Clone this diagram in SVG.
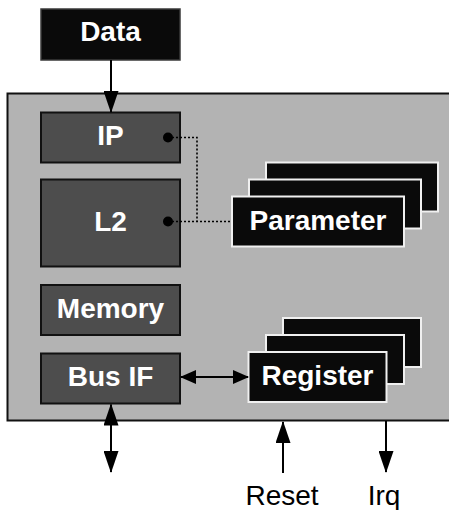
<svg xmlns="http://www.w3.org/2000/svg" width="449" height="510" viewBox="0 0 449 510">
  <style>
    .lbl { font-family: "Liberation Sans", Arial, sans-serif; font-weight: bold; font-size: 28px; fill: #ffffff; text-anchor: middle; }
    .pin { font-family: "Liberation Sans", Arial, sans-serif; font-size: 28px; fill: #000000; text-anchor: middle; }
    .blk { fill: #4d4d4d; stroke: #111111; stroke-width: 2; }
    .card { fill: #0a0a0a; stroke: #f0f0f0; stroke-width: 2; }
    .wire { stroke: #000000; stroke-width: 2; fill: none; }
    .dot-wire { stroke: #000000; stroke-width: 1.6; fill: none; stroke-dasharray: 2 2; }
  </style>
  <defs>
    <marker id="headV" markerUnits="userSpaceOnUse" markerWidth="22" markerHeight="15" viewBox="0 0 22 15" refX="21" refY="7.5" orient="auto-start-reverse">
      <path d="M0,0 L22,7.5 L0,15 Z" fill="#000"/>
    </marker>
    <marker id="headH" markerUnits="userSpaceOnUse" markerWidth="16" markerHeight="14" viewBox="0 0 16 14" refX="15" refY="7" orient="auto-start-reverse">
      <path d="M0,0 L16,7 L0,14 Z" fill="#000"/>
    </marker>
  </defs>

  <rect width="449" height="510" fill="#ffffff"/>

  <!-- chip body -->
  <rect id="chip" x="7.5" y="93.5" width="443" height="327" fill="#b3b3b3" stroke="#111111" stroke-width="2"/>

  <g id="data">
    <rect x="41" y="9" width="139" height="51" fill="#0a0a0a" stroke="#3a3a3a" stroke-width="1.5"/>
    <text class="lbl" x="110.5" y="41">Data</text>
  </g>

  <g id="ip">
    <rect class="blk" x="41" y="112.5" width="139" height="50"/>
    <text class="lbl" x="110.5" y="145">IP</text>
  </g>

  <g id="l2">
    <rect class="blk" x="41" y="179.5" width="139" height="87"/>
    <text class="lbl" x="110.5" y="231">L2</text>
  </g>

  <g id="memory">
    <rect class="blk" x="41" y="285" width="139" height="50"/>
    <text class="lbl" x="110.5" y="317.5">Memory</text>
  </g>

  <g id="busif">
    <rect class="blk" x="41" y="353.5" width="139" height="50"/>
    <text class="lbl" x="110.5" y="386">Bus IF</text>
  </g>

  <g id="parameter">
    <rect class="card" x="266" y="162.5" width="172" height="49"/>
    <rect class="card" x="249" y="179.5" width="172" height="49"/>
    <rect class="card" x="232" y="196.5" width="172" height="50"/>
    <text class="lbl" x="318" y="229.5">Parameter</text>
  </g>

  <g id="register">
    <rect class="card" x="283" y="318" width="138" height="49"/>
    <rect class="card" x="266" y="335" width="138" height="49"/>
    <rect class="card" x="248.5" y="352" width="138" height="50"/>
    <text class="lbl" x="317.5" y="384.5">Register</text>
  </g>

  <g id="pins">
    <text class="pin" x="282" y="505">Reset</text>
    <text class="pin" x="384" y="505">Irq</text>
  </g>

  <g id="connectors">
    <line class="wire" x1="111" y1="60" x2="111" y2="112" marker-end="url(#headV)"/>
    <polyline class="dot-wire" points="168,137.5 197,137.5 197,221.5"/>
    <line class="dot-wire" x1="168" y1="221.5" x2="232" y2="221.5"/>
    <circle cx="168" cy="137.5" r="5" fill="#000"/>
    <circle cx="168" cy="221.5" r="5" fill="#000"/>
    <line class="wire" x1="181" y1="377" x2="248" y2="377" marker-start="url(#headH)" marker-end="url(#headH)"/>
    <line class="wire" x1="111" y1="404.5" x2="111" y2="472" marker-start="url(#headV)" marker-end="url(#headV)"/>
    <line class="wire" x1="283" y1="473" x2="283" y2="422" marker-end="url(#headV)"/>
    <line class="wire" x1="386" y1="421" x2="386" y2="472" marker-end="url(#headV)"/>
  </g>
</svg>
